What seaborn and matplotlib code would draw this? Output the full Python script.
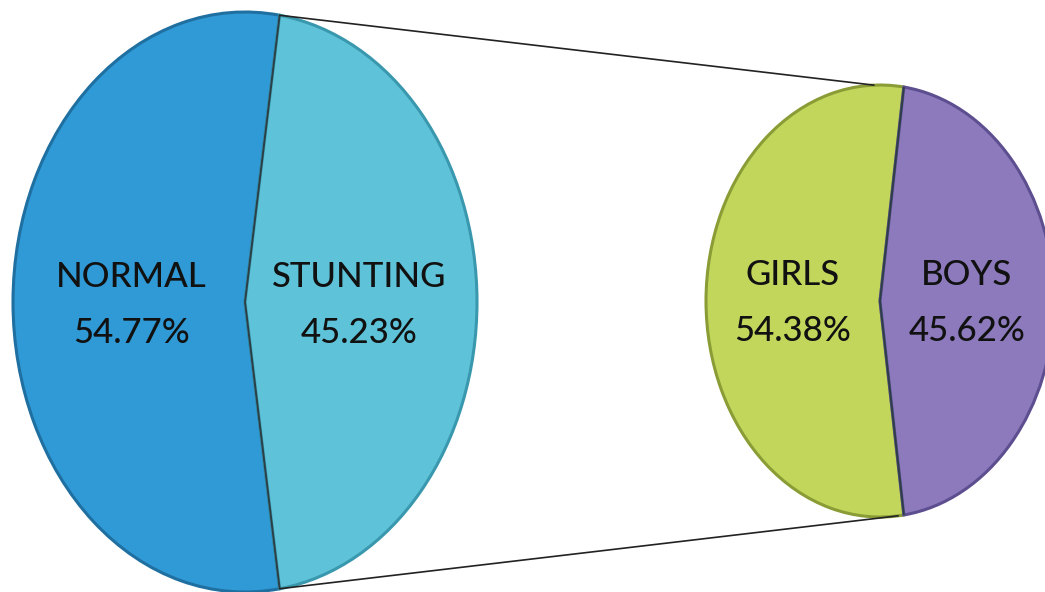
import numpy as np
import matplotlib
matplotlib.use("Agg")
import matplotlib.pyplot as plt
from matplotlib.patches import ConnectionPatch
import seaborn as sns

# ---- data ----
main_labels = ["NORMAL", "STUNTING"]
main_values = [54.77, 45.23]
main_colors = ["#2f9ad6", "#5ec3d8"]
main_edges = ["#1f6fa0", "#3a98ae"]

sub_labels = ["GIRLS", "BOYS"]
sub_values = [54.38, 45.62]
sub_colors = ["#c2d65c", "#8c7abd"]
sub_edges = ["#8a9c35", "#5d4e90"]

sns.set_theme(style="white")
plt.rcParams['font.family'] = ['Lato', 'DejaVu Sans']

W, H = 1045, 592
fig = plt.figure(figsize=(W / 100, H / 100), dpi=100)
fig.patch.set_facecolor("white")


def px_axes(cx, cy, a, b):
    """axes whose [-1,1] box maps onto an ellipse centred at pixel (cx, cy) (from top)."""
    left = (cx - a) / W
    bottom = (H - cy - b) / H
    return fig.add_axes([left, bottom, 2 * a / W, 2 * b / H])


def draw_pie(ax, values, labels, colors, edges, rdist):
    first = values[0] / sum(values) * 360
    wedges, _ = ax.pie(values, colors=colors, startangle=180 - first / 2,
                       counterclock=True, radius=1,
                       wedgeprops=dict(linewidth=2.2))
    for w, ec in zip(wedges, edges):
        w.set_edgecolor(ec)
    # dark divider between the two slices
    for ang in (wedges[0].theta1, wedges[0].theta2):
        t = np.deg2rad(ang)
        ax.plot([0, np.cos(t)], [0, np.sin(t)], color="#2c3e46", lw=1.4,
                solid_capstyle="butt")
    ax.set_aspect("auto")
    ax.set_xlim(-1, 1)
    ax.set_ylim(-1, 1)
    ax.axis("off")
    for w, lab, v in zip(wedges, labels, values):
        th = np.deg2rad((w.theta1 + w.theta2) / 2)
        ax.text(rdist * np.cos(th), rdist * np.sin(th) - 0.01,
                f"{lab}\n{v:.2f}%", ha="center", va="center",
                fontsize=25, color="#111111", linespacing=1.9,
                fontweight="medium")
    return wedges


axL = px_axes(245, 302, 232, 290)
wl = draw_pie(axL, main_values, main_labels, main_colors, main_edges, 0.49)

axR = px_axes(880, 301, 174, 216)
wr = draw_pie(axR, sub_values, sub_labels, sub_colors, sub_edges, 0.5)

# connector lines from the STUNTING slice to the secondary pie
a_top = np.deg2rad(wl[0].theta1)
a_bot = np.deg2rad(wl[0].theta2)
for ang_l, ang_r in [(a_top, np.deg2rad(92)), (a_bot, np.deg2rad(-84))]:
    con = ConnectionPatch(xyA=(np.cos(ang_l), np.sin(ang_l)), coordsA=axL.transData,
                          xyB=(np.cos(ang_r), np.sin(ang_r)), coordsB=axR.transData,
                          color="#222222", linewidth=1.2)
    fig.add_artist(con)

fig.savefig("out.png", dpi=100, facecolor="white")
